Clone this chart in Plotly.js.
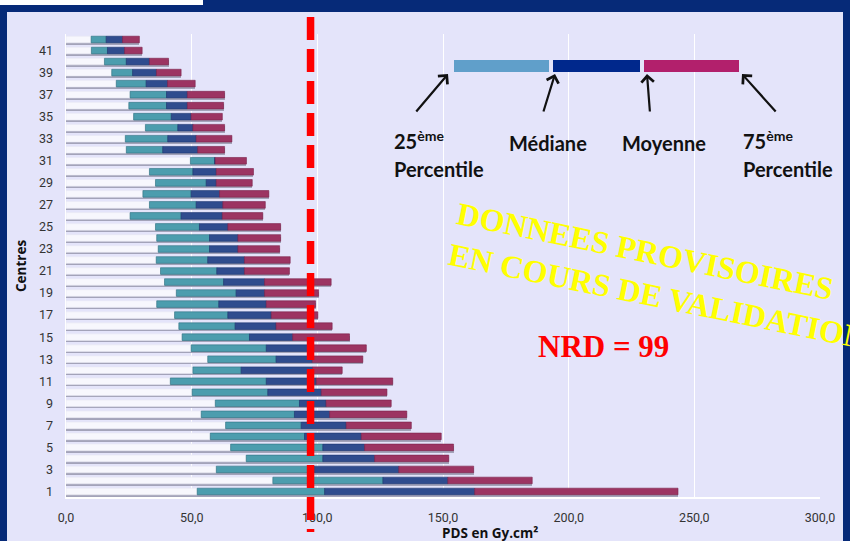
<!DOCTYPE html>
<html>
<head>
<meta charset="utf-8">
<script src="https://cdn.plot.ly/plotly-3.0.1.min.js"></script>
<style>
html,body{margin:0;padding:0;background:#062a78;}
#chart{width:850px;height:541px;}
</style>
</head>
<body>
<div id="chart"></div>
<script>
// Centres (row 1 at bottom, row 42 at top)
const centres = [1,2,3,4,5,6,7,8,9,10,11,12,13,14,15,16,17,18,19,20,21,22,23,24,25,26,27,28,29,30,31,32,33,34,35,36,37,38,39,40,41,42];
const yTickVals = [1,3,5,7,9,11,13,15,17,19,21,23,25,27,29,31,33,35,37,39,41];
const yTickText = ['1','3','5','7','9','11','13','15','17','19','21','23','25','27','29','31','33','35','37','39','41'];
const xTickVals = [0,50,100,150,200,250,300];

// PDS (Gy.cm²) per centre
const p25    = [52.2,82.3,59.8,71.7,65.5,57.4,63.5,53.8,59.4,50.2,41.5,50.5,56.4,49.8,46.2,44.9,43.2,36.1,43.9,39.2,37.6,35.9,36.7,36.1,35.6,25.5,33.2,30.6,35.6,33.2,49.5,24.0,23.6,31.6,26.9,25.0,25.5,20.0,18.2,15.3,10.1,10.0];
const median = [102.9,126.1,98.9,102.2,102.2,94.9,93.6,90.9,92.9,80.3,79.7,69.7,83.6,79.7,73.0,67.3,64.4,60.8,67.7,62.7,60.0,56.4,57.1,57.1,53.1,45.8,51.8,49.8,55.8,50.5,59.1,38.5,40.5,44.5,41.9,40.0,40.0,31.9,26.5,24.0,16.5,16.0];
const mean   = [162.6,151.9,132.4,122.8,118.8,117.5,111.5,104.9,103.5,101.6,99.6,98.1,98.0,98.0,90.2,83.6,81.7,79.7,79.0,79.0,71.0,71.0,68.4,68.4,64.4,62.2,62.4,61.1,59.8,59.8,59.4,52.4,51.8,50.5,49.8,48.3,48.3,40.4,36.0,33.2,23.3,22.5];
const p75    = [243.5,185.5,162.2,152.3,154.2,149.3,137.4,135.6,129.4,127.7,130.0,109.9,118.1,119.5,112.8,105.9,100.2,99.3,100.5,105.5,88.9,89.2,85.0,85.4,85.4,78.3,79.3,80.7,74.1,74.6,71.8,63.1,66.0,63.1,62.2,62.7,63.1,51.4,45.8,40.8,30.3,29.2];

const NRD = 99;
const NRD_LINE_X = 97.3;

// geometry helpers (pixel -> paper) for decorations
const L = 66, T = 34, W = 754, H = 463;
const px = v => (v - L) / W;
const py = v => (T + H - v) / H;

const BW = 0.6;
function seg(x, base, color, line) {
  return {type:'bar', orientation:'h', y:centres, x:x, base:base, width:BW,
    marker:{color:color, opacity:1, line:{color:line, width:0.6}},
    hoverinfo:'skip', showlegend:false};
}
const zeros = centres.map(() => 0);
const shadow = {type:'bar', orientation:'h', y:centres, x:p75, base:zeros, width:BW, offset:-0.47,
  marker:{color:'#a3a3b9', opacity:1}, hoverinfo:'skip', showlegend:false};
const white = seg(p25, zeros, '#f7f7fd', '#e8e8f4');
const teal  = seg(median.map((m,i)=>m-p25[i]), p25, '#4c9dae', '#2f7282');
const navy  = seg(mean.map((m,i)=>m-median[i]), median, '#2f4c8e', '#1d3570');
const mag   = seg(p75.map((m,i)=>m-mean[i]), mean, '#9c3462', '#7a2249');

const labFont = {family:'Lato, "Open Sans", sans-serif', size:20, color:'#111111'};
function txt(x, y, text, font, extra) {
  return Object.assign({xref:'paper', yref:'paper', x:px(x), y:py(y), xanchor:'center', yanchor:'middle',
    text:text, showarrow:false, font:font}, extra || {});
}
function arrow(hx, hy, ax, ay) {
  return {xref:'paper', yref:'paper', x:px(hx), y:py(hy), ax:ax, ay:ay, text:'', showarrow:true,
    arrowhead:4, arrowsize:1.1, arrowwidth:2.2, arrowcolor:'#111', standoff:0};
}
const axFont = {family:'"Open Sans", sans-serif', size:13.5, color:'#111'};
const ann = [
  txt(21, 266, '<b>Centres</b>', axFont, {textangle:-90}),
  txt(490, 533, '<b>PDS en Gy.cm²</b>', axFont),
  arrow(448, 74, -33, 39),
  arrow(555, 74, -12, 39),
  arrow(647, 74, 3, 39),
  arrow(742, 74, 35, 39),
  txt(392, 140, '<b>25<sup>ème</sup></b>', labFont, {xanchor:'left'}),
  txt(392, 169, '<b>Percentile</b>', labFont, {xanchor:'left'}),
  txt(507, 143, '<b>Médiane</b>', labFont, {xanchor:'left'}),
  txt(620, 143, '<b>Moyenne</b>', labFont, {xanchor:'left'}),
  txt(741, 140, '<b>75<sup>ème</sup></b>', labFont, {xanchor:'left'}),
  txt(741, 169, '<b>Percentile</b>', labFont, {xanchor:'left'}),
  txt(662, 276, '<b>DONNEES PROVISOIRES<br>EN COURS DE VALIDATION</b>',
      {family:'"Liberation Serif", "DejaVu Serif", serif', size:32, color:'#ffff00'}, {textangle:11.5, align:'left'}),
  txt(603, 346, '<b>NRD = ' + NRD + '</b>', {family:'"Liberation Serif", "DejaVu Serif", serif', size:31, color:'#ff0000'})
];

const shapes = [
  {type:'rect', xref:'paper', yref:'paper', x0:px(7), x1:px(843), y0:py(545), y1:py(12), fillcolor:'#e4e4fa', line:{width:0}, layer:'below'},
  {type:'rect', xref:'paper', yref:'paper', x0:px(-2), x1:px(203), y0:py(5), y1:py(-2), fillcolor:'#ffffff', line:{width:0}, layer:'below'},
  // legend swatches
  {type:'rect', xref:'paper', yref:'paper', x0:px(454), x1:px(549), y0:py(72), y1:py(60), fillcolor:'#609fca', line:{width:0}},
  {type:'rect', xref:'paper', yref:'paper', x0:px(553), x1:px(640), y0:py(72), y1:py(60), fillcolor:'#00288c', line:{width:0}},
  {type:'rect', xref:'paper', yref:'paper', x0:px(644), x1:px(739), y0:py(72), y1:py(60), fillcolor:'#b2206c', line:{width:0}},
  // NRD dashed line
  {type:'line', xref:'x', yref:'paper', x0:NRD_LINE_X, x1:NRD_LINE_X, y0:py(17), y1:py(532), line:{color:'#ff0000', width:7.5, dash:'23px,9px'}, layer:'above'}
];

const layout = {
  width:850, height:541,
  margin:{l:L, r:850-L-W, t:T, b:541-T-H, pad:0},
  paper_bgcolor:'#062a78', plot_bgcolor:'rgba(0,0,0,0)',
  barmode:'overlay', bargap:0,
  separators:', ',
  showlegend:false,
  xaxis:{range:[0,300], tickvals:xTickVals, tickformat:'.1f', showgrid:true, gridcolor:'#ffffff', gridwidth:1,
    zeroline:false, showline:true, linecolor:'#ffffff', linewidth:1.5, ticks:'outside', ticklen:8, tickcolor:'rgba(0,0,0,0)',
    tickfont:{family:'Roboto, sans-serif', size:12.5, color:'#333333'}, fixedrange:true},
  yaxis:{range:[0.5,42.5], tickvals:yTickVals, ticktext:yTickText, showgrid:false, zeroline:false,
    showline:true, linecolor:'#ffffff', linewidth:1.5, ticks:'outside', ticklen:9, tickcolor:'rgba(0,0,0,0)',
    tickfont:{family:'Roboto, sans-serif', size:12.5, color:'#333333'}, fixedrange:true},
  annotations:ann,
  shapes:shapes
};

Plotly.newPlot('chart', [shadow, white, teal, navy, mag], layout, {displayModeBar:false, staticPlot:true});
</script>
</body>
</html>
